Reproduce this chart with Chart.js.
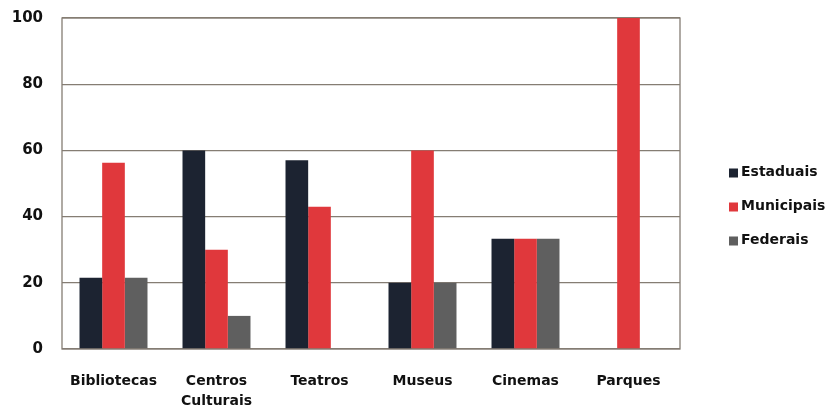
<!DOCTYPE html>
<html>
<head>
<meta charset="utf-8">
<script src="https://cdn.jsdelivr.net/npm/chart.js@4/dist/chart.umd.min.js"></script>
<style>
  html, body { margin: 0; padding: 0; background: #fff; }
  #wrap { width: 837px; height: 411px; }
</style>
</head>
<body>
<div id="wrap"><canvas id="c" width="837" height="411"></canvas></div>
<script>
var categories = ['Bibliotecas', ['Centros', 'Culturais'], 'Teatros', 'Museus', 'Cinemas', 'Parques'];
var estaduais  = [21.5, 60, 57, 20, 33.3, 0];
var municipais = [56.3, 30, 43, 60, 33.3, 100];
var federais   = [21.5, 10, 0, 20, 33.3, 0];
var yTicks = [0, 20, 40, 60, 80, 100];

var FONT = 'DejaVu Sans';
var gridColor = '#857d73';

// frame around the plot area
var frame = {
    id: 'frame',
    beforeDatasetsDraw: function (chart) {
        var a = chart.chartArea, ctx = chart.ctx;
        ctx.save();
        ctx.strokeStyle = gridColor;
        ctx.lineWidth = 1.3;
        ctx.strokeRect(a.left, a.top, a.right - a.left, a.bottom - a.top);
        ctx.restore();
    }
};

// legend to the right, centred on the canvas
var sideLegend = {
    id: 'sideLegend',
    afterDraw: function (chart) {
        var ctx = chart.ctx, sets = chart.data.datasets;
        var x = chart.chartArea.right + 49;
        var step = 34;
        var y0 = chart.height / 2 - step * (sets.length - 1) / 2 + 1;
        ctx.save();
        ctx.font = 'bold 14px "' + FONT + '"';
        ctx.textBaseline = 'middle';
        ctx.textAlign = 'left';
        sets.forEach(function (ds, i) {
            var y = y0 + i * step;
            ctx.fillStyle = ds.backgroundColor;
            ctx.fillRect(x, y - 4, 9, 9);
            ctx.fillStyle = '#111';
            ctx.fillText(ds.label, x + 12, y);
        });
        ctx.restore();
    }
};

new Chart(document.getElementById('c'), {
    type: 'bar',
    data: {
        labels: categories,
        datasets: [
            { label: 'Estaduais', data: estaduais, backgroundColor: '#1c2331' },
            { label: 'Municipais', data: municipais, backgroundColor: '#e0383c' },
            { label: 'Federais', data: federais, backgroundColor: '#5f5f5f' }
        ]
    },
    options: {
        responsive: false,
        animation: false,
        layout: { padding: { left: 0, top: 18, right: 157, bottom: 0 } },
        datasets: { bar: { categoryPercentage: 0.66, barPercentage: 1.0 } },
        plugins: {
            legend: { display: false },
            tooltip: { enabled: false }
        },
        scales: {
            x: {
                grid: { display: false, drawTicks: false },
                border: { display: false },
                ticks: {
                    color: '#111',
                    padding: 23,
                    maxRotation: 0,
                    autoSkip: false,
                    font: { family: FONT, size: 14, weight: 'bold', lineHeight: 1.4 }
                },
                afterFit: function (s) {
                    s.height = 62;
                    s.paddingLeft = 0;
                    s.paddingRight = 0;
                }
            },
            y: {
                min: 0,
                max: 100,
                afterBuildTicks: function (s) {
                    s.ticks = yTicks.map(function (v) { return { value: v }; });
                },
                grid: { color: gridColor, lineWidth: 1.3, drawTicks: false },
                border: { display: false },
                ticks: {
                    color: '#111',
                    padding: 19,
                    font: { family: FONT, size: 15, weight: 'bold' }
                },
                afterFit: function (s) {
                    s.width = 62;
                    s.paddingTop = 0;
                    s.paddingBottom = 0;
                }
            }
        }
    },
    plugins: [frame, sideLegend]
});
</script>
</body>
</html>
